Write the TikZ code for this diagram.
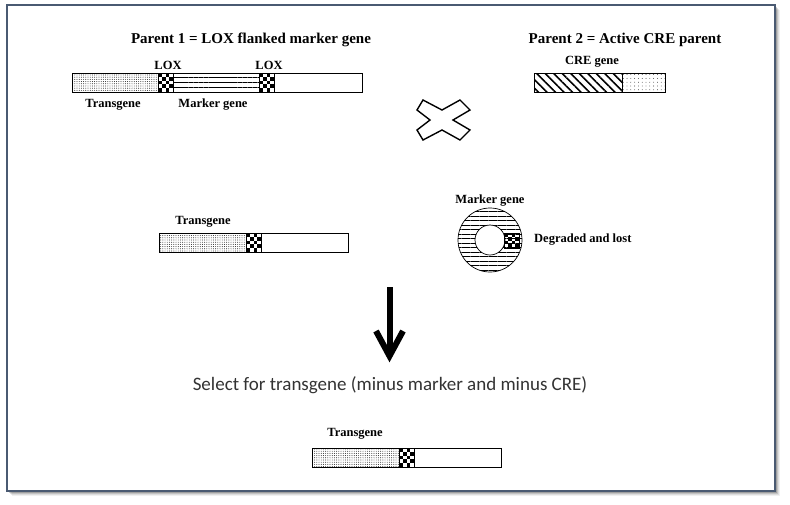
\documentclass[tikz,border=0pt]{standalone}
\usepackage{fontspec}
\setmainfont{Liberation Serif}
\newfontfamily\carlito{Carlito}
\usetikzlibrary{calc,patterns.meta}
\definecolor{framecol}{HTML}{4A5A72}

\tikzset{
  gene/.style={draw=black, line width=0.7pt},
  lbl/.style={font=\bfseries\fontsize{12.5}{14}\selectfont, inner sep=0pt},
  ttl/.style={font=\bfseries\fontsize{15}{18}\selectfont, inner sep=0pt},
  dense dots/.style={pattern={Dots[distance=2.2pt,radius=0.45pt]}},
  sparse dots/.style={pattern={Dots[distance=3.8pt,radius=0.4pt]}},
  marker lines/.style={pattern={Lines[angle=0,distance=4.9pt,line width=0.8pt]}},
  ring lines/.style={pattern={Lines[angle=0,distance=4.5pt,line width=0.8pt]}},
  cre lines/.style={pattern={Lines[angle=-45,distance=6pt,line width=1.6pt]}},
}

% checker block for a LOX site: top left corner, last row
\newcommand{\loxblock}[3]{%
  \foreach \i in {0,...,3}{
    \foreach \j in {0,...,#3}{
      \pgfmathtruncatemacro{\odd}{mod(\i+\j,2)}
      \ifnum\odd=0
        \fill (#1+\i*3.75,#2+\j*3.8) rectangle ++(3.75,3.8);
      \fi}}
  \draw[gene] (#1,#2) rectangle ++(15,#3*3.8+3.8);}

\begin{document}
\begin{tikzpicture}[x=1pt,y=-1pt]
  \fill[white] (0,0) rectangle (790,504);
  \useasboundingbox (0,0) rectangle (790,504);

  % frame with shadow
  \foreach \k/\op in {5/0.06,4/0.08,3/0.12,2/0.18,1/0.25}
    \fill[black,opacity=\op] (7+\k,5+\k) rectangle (775+\k,491+\k);
  \draw[framecol, line width=2pt, fill=white] (7,5) rectangle (775,491);

  % parent 1
  \node[ttl] (p1title) at (251,40) {Parent 1 = LOX flanked marker gene};
  \draw[gene, dense dots] (72,73) rectangle (158,92);
  \draw[gene, marker lines] (173,73) rectangle (259,92);
  \draw[gene] (274,73) rectangle (362,92);
  \loxblock{158}{73}{4}
  \loxblock{259}{73}{4}
  \node[lbl] (lox1) at (168,65) {LOX};
  \node[lbl] (lox2) at (269,65) {LOX};
  \node[lbl] (tg1) at (113,105) {Transgene};
  \node[lbl] (mk1) at (213,105) {Marker gene};

  % parent 2
  \node[ttl] (p2title) at (625,40) {Parent 2 = Active CRE parent};
  \node[lbl] (cre) at (592,62) {CRE gene};
  \draw[gene, cre lines] (534,73) rectangle (622,92);
  \draw[gene, sparse dots] (622,73) rectangle (665,92);

  % cross
  \draw[line width=1.4pt, line join=miter]
    (423,100) -- (442,110) -- (460,100) -- (470,110) -- (453,120) -- (470,130)
    -- (460,140) -- (442,130) -- (423,140) -- (417,130) -- (430,120) -- (417,110) -- cycle;

  % after recombination
  \node[lbl] (tg2) at (203,222) {Transgene};
  \draw[gene, dense dots] (159,233) rectangle (246,252);
  \draw[gene] (261,233) rectangle (348,252);
  \loxblock{246}{233}{4}

  \coordinate (ring) at (490,240);
  \draw[gene, ring lines, even odd rule] (ring) circle[radius=32] (ring) circle[radius=15];
  \loxblock{504}{233}{3}
  \node[lbl] (mk2) at (490,201) {Marker gene};
  \node[lbl, anchor=west] (lost) at (534,240) {Degraded and lost};

  % selection arrow
  \coordinate (arrtop) at (389.5,287);
  \coordinate (arrtip) at (389.5,356);
  \draw[line width=6pt] (arrtop) -- (arrtip);
  \draw[line width=6pt, line join=miter] (376,331) -- (arrtip) -- (403,331);

  \node[font=\carlito\fontsize{19}{22}\selectfont, text=black!80, inner sep=0pt] (sel) at (390,385)
    {Select for transgene (minus marker and minus CRE)};

  % selected plant
  \node[lbl] (tg3) at (355,434) {Transgene};
  \draw[gene, dense dots] (312,448) rectangle (399,467);
  \draw[gene] (414,448) rectangle (501,467);
  \loxblock{399}{448}{4}
\end{tikzpicture}
\end{document}
